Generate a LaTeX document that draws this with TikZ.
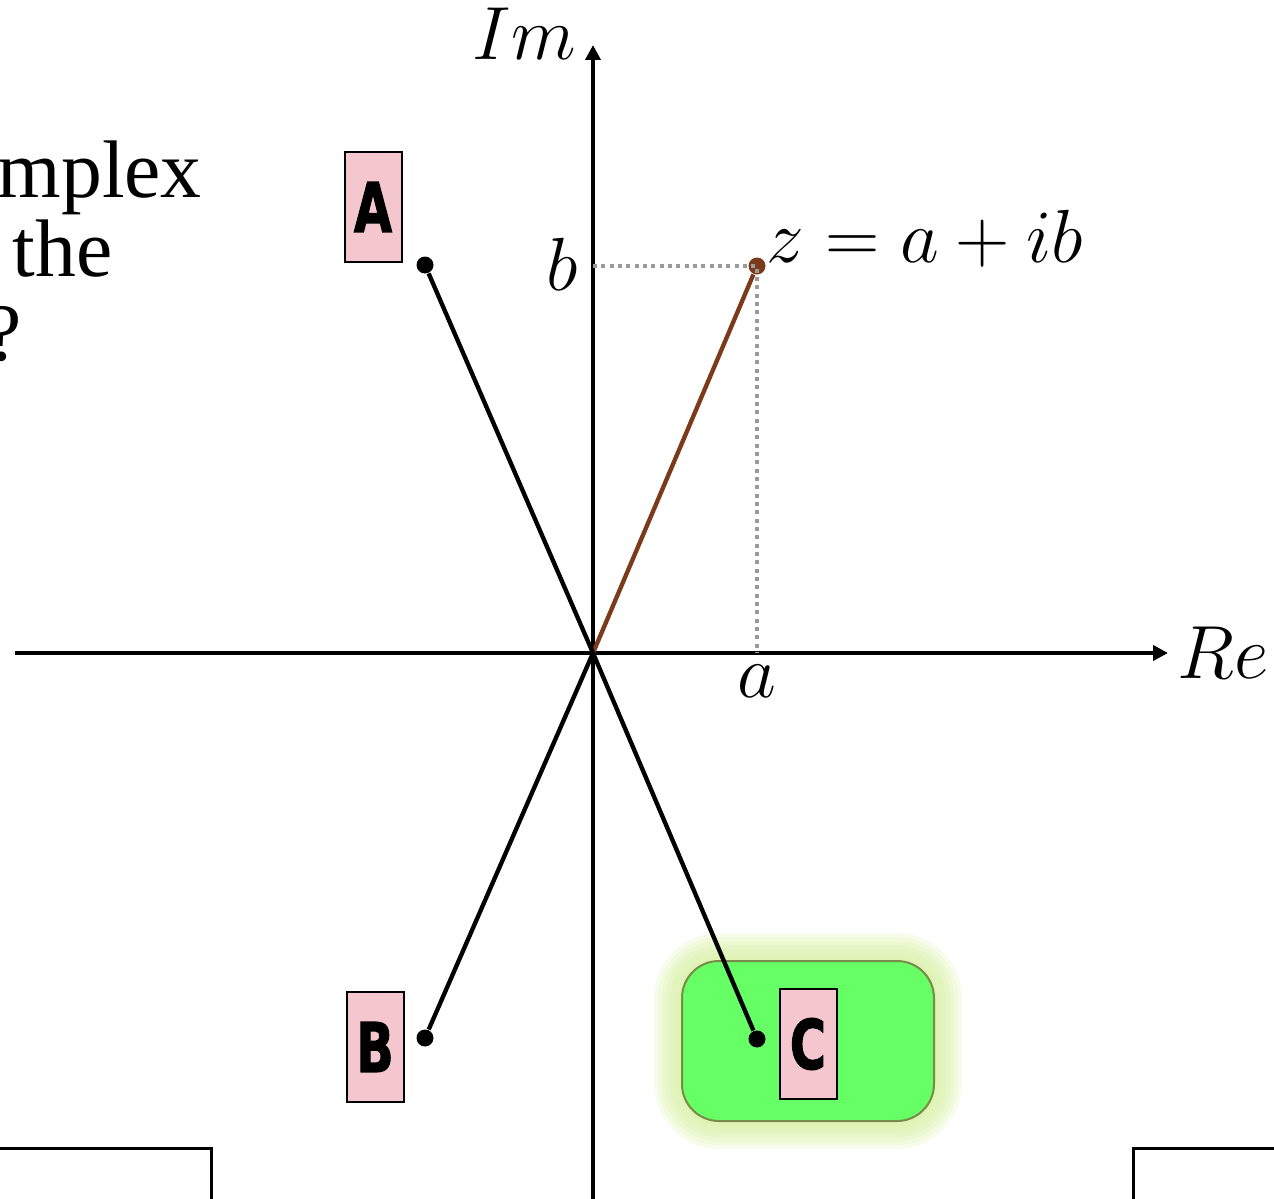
\RequirePackage{fix-cm}
\documentclass[tikz,border=0pt]{standalone}
\usepackage{fontspec}
\usepackage{graphicx}
\usetikzlibrary{positioning,arrows.meta}
\newfontfamily\slidefont{Liberation Serif}
\newfontfamily\tagfont{DejaVu Sans Bold}[FakeBold=2]
\definecolor{tagpink}{HTML}{F4C7CF}
\definecolor{zbrown}{HTML}{7B3A1A}
\definecolor{hintgreen}{HTML}{66FF66}
\definecolor{hintedge}{HTML}{7A8A4A}
\definecolor{glowgreen}{HTML}{D6F0A0}
\definecolor{dotgray}{HTML}{9A9A9A}

\begin{document}
\begin{tikzpicture}[x=0.3pt,y=-0.3pt,>={Triangle[length=4.5pt,width=4.5pt]},
  axis/.style={line width=1.3pt,->},
  dot/.style={circle,fill=black,inner sep=0pt,minimum size=5.1pt},
  spoke/.style={line width=1.3pt},
  guide/.style={line width=1.2pt,dotgray,dash pattern=on 1.2pt off 1.3pt},
  tagbox/.style={draw,line width=0.6pt,fill=tagpink,minimum width=17.1pt,minimum height=33pt,inner sep=0pt,
    font=\tagfont\fontsize{20.5}{24}\selectfont},
  mathlbl/.style={inner sep=0pt,font=\fontsize{22.6}{27}\selectfont},
  slidetxt/.style={inner sep=0pt,anchor=base west,font=\slidefont\fontsize{24.5}{29}\selectfont}]
  \useasboundingbox (0,0) rectangle (1274,1199);

  % cut-off slide text
  \begin{scope}
    \clip (0,0) rectangle (1274,1199);
    \node (t1) [slidetxt] at (-3,197) {mplex};
    \node (t2) [slidetxt] at (12,277) {the};
    \node (t3) [slidetxt] at (-15,360) {?};
  \end{scope}

  % hint box with glow
  \foreach \g in {28,24,20,16,12,8,4}
    \fill[glowgreen,opacity=0.2,rounded corners=11.1pt+0.3pt*\g]
      (682-\g,961-\g) rectangle (934+\g,1121+\g);
  \node (hint) [draw=hintedge,line width=0.6pt,fill=hintgreen,rounded corners=11.1pt,
    minimum width=75.6pt,minimum height=48pt] at (808,1041) {};

  % axes
  \coordinate (O) at (593,653);
  \coordinate (xs) at (15,653);
  \coordinate (xe) at (1168,653);
  \coordinate (ys) at (593,1210);
  \coordinate (ye) at (593,45);
  \draw[axis] (xs) -- (xe);
  \draw[axis] (ys) -- (ye);
  \node (re) [mathlbl,anchor=base west] at (1177,678) {$Re$};
  \node (im) [mathlbl,anchor=base west] at (472,60) {$Im$};

  % points
  \node (zpt) [dot,fill=zbrown] at (757,266) {};
  \node (apt) [dot] at (425,265) {};
  \node (bpt) [dot] at (425,1038) {};
  \node (cpt) [dot] at (757,1039) {};
  \coordinate (bmark) at (593,266);
  \coordinate (amark) at (757,653);

  \draw[guide] (bmark) -- (zpt.center) -- (amark);
  \draw[spoke,zbrown] (O) -- (zpt);
  \draw[spoke] (O) -- (apt);
  \draw[spoke] (O) -- (bpt);
  \draw[spoke] (O) -- (cpt);

  \node (zlbl) [mathlbl,anchor=base west] at (766,262) {$z=a+ib$};
  \node (blbl) [mathlbl,anchor=base] at (562,290) {$b$};
  \node (albl) [mathlbl,anchor=base] at (757,697) {$a$};

  % answer tags
  \node (taga) [tagbox] at (373,207) {\scalebox{0.72}[1]{A}};
  \node (tagb) [tagbox] at (375,1047) {\scalebox{0.72}[1]{B}};
  \node (tagc) [tagbox] at (808,1044) {\scalebox{0.72}[1]{C}};

  % neighbouring slide frames
  \coordinate (fl1) at (-10,1148);
  \coordinate (fl2) at (211,1148);
  \coordinate (fl3) at (211,1210);
  \coordinate (fr1) at (1133,1210);
  \coordinate (fr2) at (1133,1148);
  \coordinate (fr3) at (1285,1148);
  \draw[line width=0.9pt] (fl1) -- (fl2) -- (fl3);
  \draw[line width=0.9pt] (fr1) -- (fr2) -- (fr3);
\end{tikzpicture}
\end{document}
